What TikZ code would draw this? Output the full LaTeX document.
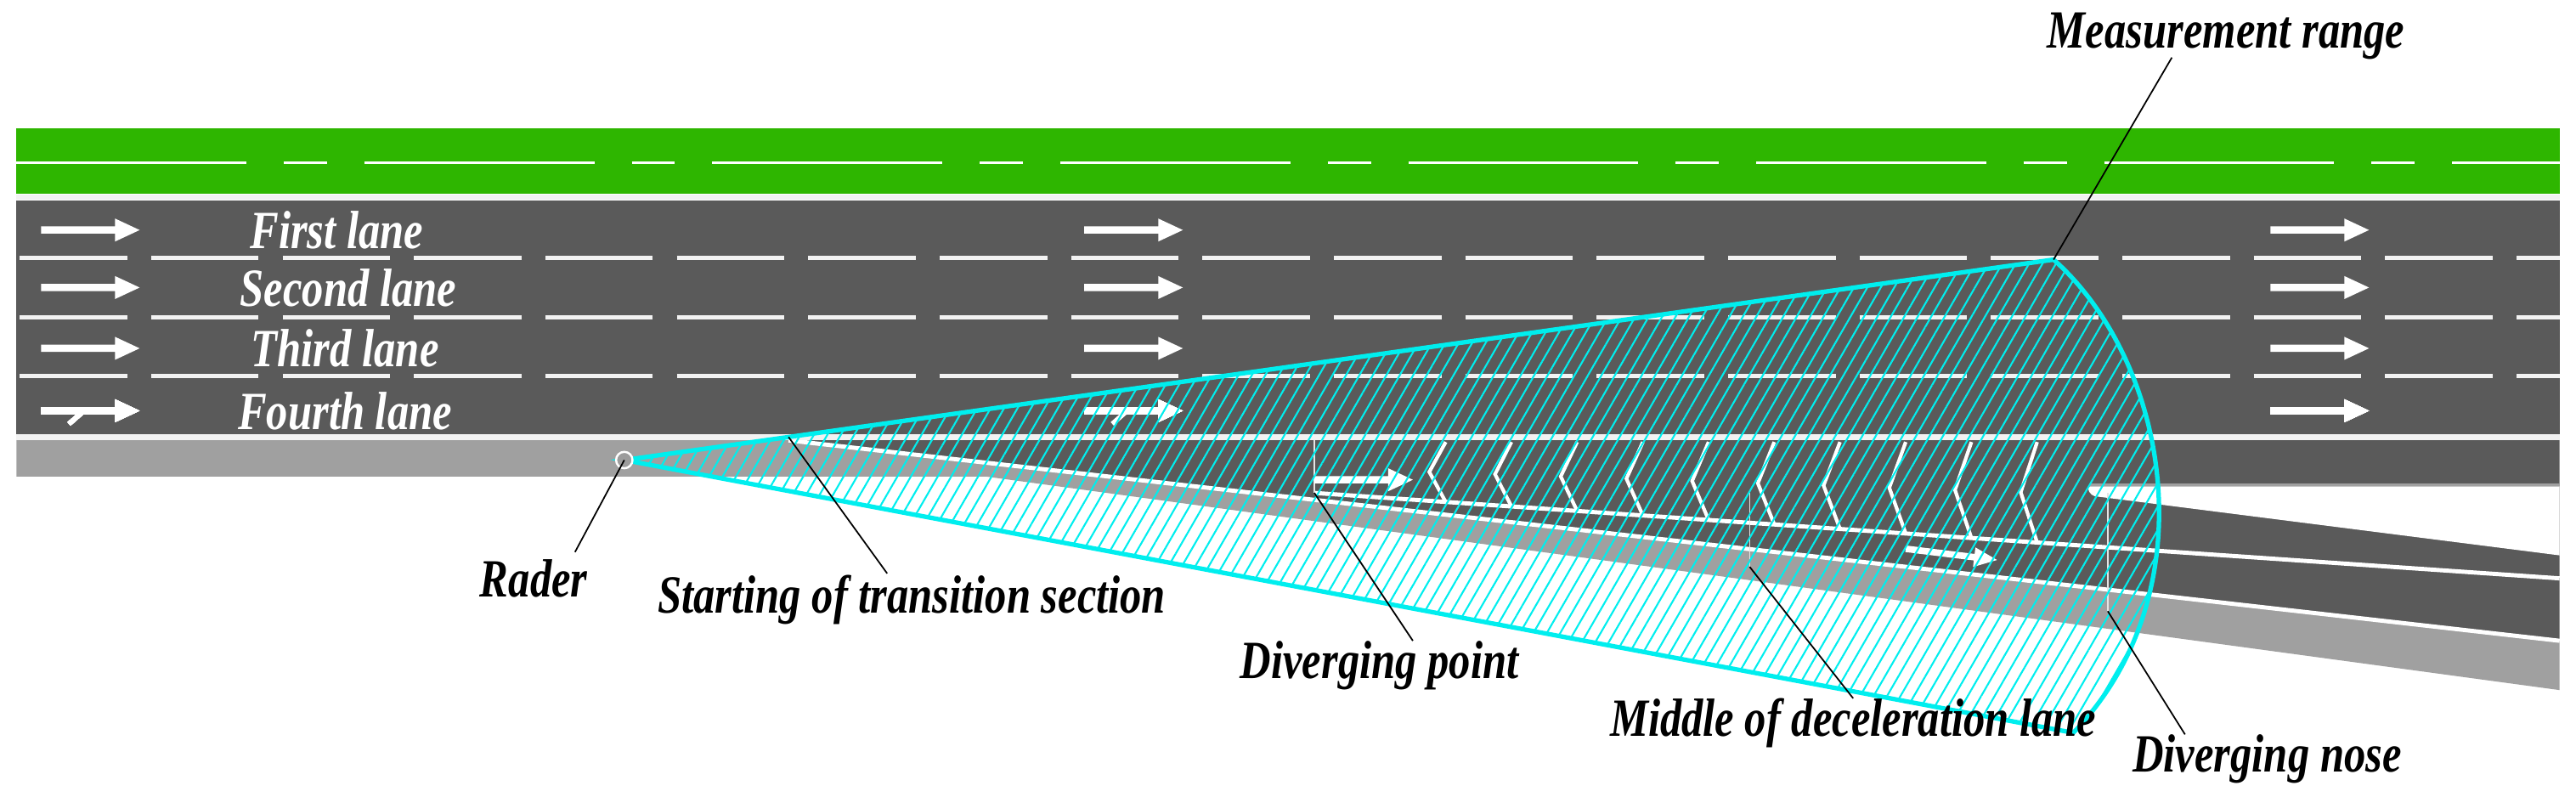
\documentclass[tikz,border=0pt]{standalone}
\usepackage{fontspec}
\setmainfont{Liberation Serif}
\usetikzlibrary{patterns.meta}

\definecolor{asphalt}{RGB}{90,90,90}
\definecolor{verge}{RGB}{46,182,0}
\definecolor{shoulder}{RGB}{160,160,160}
\definecolor{radar}{RGB}{0,238,238}

\newcommand{\lbl}[1]{\scalebox{0.8}[1]{\textbf{\textit{#1}}}}
\newcommand{\lanearrow}[2]{%
  \fill[white,shift={(#1,#2)}] (0,-2.2) -- (45,-2.2) -- (45,-7) -- (60,0) -- (45,7) -- (45,2.2) -- (0,2.2) -- cycle;}

\begin{document}
\begin{tikzpicture}[x=0.019337cm,y=-0.019337cm,
    every node/.style={font=\fontsize{18}{18}\selectfont},
    leader/.style={black,line width=0.5pt}]
\useasboundingbox (0,0) rectangle (1568,484.6);
% verge and main carriageway
\fill[verge] (10,78) rectangle (1558,118);
\draw[white,line width=1pt,dash pattern=on 77pt off 12.5pt on 14.5pt off 12.5pt] (10,99) -- (1558,99);
\fill[asphalt] (10,122) rectangle (1558,265);
\draw[white!90!gray,line width=1.6pt] (10,120) -- (1558,120);
\foreach \y in {157,193,229}
  \draw[white!90!gray,line width=1.4pt,dash pattern=on 36pt off 8pt] (12,\y) -- (1558,\y);
% shoulder, deceleration lane and ramp
\fill[shoulder] (10,268) -- (480,268) -- (1558,390) -- (1558,420) -- (600,290) -- (10,290) -- cycle;
\fill[asphalt] (480,268) -- (1558,268) -- (1558,389) -- cycle;
\fill[white] (1272,296) -- (1558,296) -- (1558,338) -- (1275,302) to[out=170,in=200] cycle;
\draw[white,line width=1.4pt] (480,268) -- (1558,390);
\draw[white,line width=1.4pt] (800,300) -- (1558,352);
\draw[white!90!gray,line width=1.8pt] (10,266) -- (1558,266);
\draw[shoulder,line width=0.8pt] (1272,295) -- (1558,295);
\foreach \x [evaluate=\x as \ly using 300+0.0686*(\x-800)] in {880,920,...,1250}
  \draw[white,line width=1.2pt] (\x,269) -- (\x-10,{(269+\ly)/2}) -- (\x,\ly);
\draw[white!80!gray,line width=0.5pt] (800,268) -- (800,300);
\draw[white!80!gray,line width=0.5pt] (1065,300) -- (1065,345);
\draw[white!80!gray,line width=0.5pt] (1283,300) -- (1283,372);
% lane arrows
\foreach \x in {25,660,1382}
  \foreach \y in {140,175,212}
    \lanearrow{\x}{\y}
\lanearrow{25}{250}
\lanearrow{660}{250}
\lanearrow{1382}{250}
\draw[white,line width=1.6pt] (50,251) -- (42,258);
\draw[white,line width=1.6pt] (685,251) -- (677,258);
\lanearrow{800}{292}
\begin{scope}[shift={(1160,334)},rotate=-7]
  \fill[white] (0,-2) -- (42,-2) -- (42,-6) -- (56,0) -- (42,6) -- (42,2) -- (0,2) -- cycle;
\end{scope}
% measurement range of the radar
\coordinate (rad) at (380,280);
\coordinate (mr) at (1250,158);
\coordinate (mlow) at (1262,446);
\filldraw[radar,line width=1.5pt,pattern={Lines[angle=60,distance=3.9pt,line width=0.6pt]},pattern color=radar]
  (rad) -- (mr) .. controls (1320,220) and (1345,360) .. (mlow) -- cycle;
\draw[white,line width=0.7pt,fill=asphalt!60] (rad) circle (5);
% labels
\node[white] (first) at (205,140) {\lbl{First lane}};
\node[white] (second) at (212,175) {\lbl{Second lane}};
\node[white] (third) at (210,212) {\lbl{Third lane}};
\node[white] (fourth) at (210,250) {\lbl{Fourth lane}};
\node (measure) at (1355,22) {\lbl{Measurement range}};
\node (rader) at (325,352) {\lbl{Rader}};
\node (trans) at (555,365) {\lbl{Starting of transition section}};
\node (divpt) at (840,405) {\lbl{Diverging point}};
\node (middle) at (1128,440) {\lbl{Middle of deceleration lane}};
\node (nose) at (1380,462) {\lbl{Diverging nose}};
\coordinate (tstart) at (480,266);
\coordinate (dp) at (800,300);
\coordinate (md) at (1065,345);
\coordinate (dn) at (1283,372);
\draw[leader] (mr) -- (1322,35);
\draw[leader] (rad) -- (350,336);
\draw[leader] (tstart) -- (540,349);
\draw[leader] (dp) -- (860,390);
\draw[leader] (md) -- (1128,425);
\draw[leader] (dn) -- (1330,447);
\end{tikzpicture}
\end{document}
